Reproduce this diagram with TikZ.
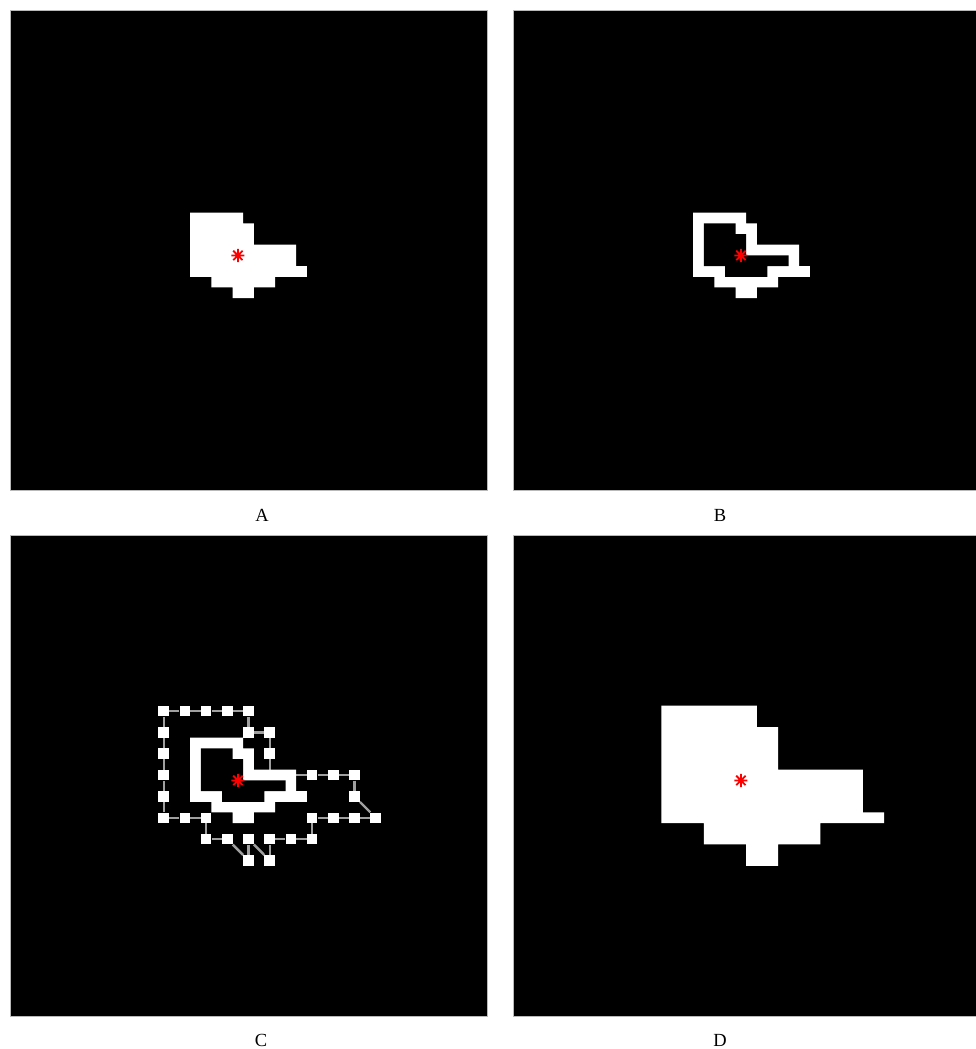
\documentclass[tikz,border=0pt]{standalone}
\usepackage{fontspec}
\setmainfont{Liberation Serif}
\newcommand{\outerblob}{(17,19) -- (22,19) -- (22,20) -- (23,20) -- (23,22) -- (27,22) -- (27,24) -- (28,24) -- (28,25) -- (25,25) -- (25,26) -- (23,26) -- (23,27) -- (21,27) -- (21,26) -- (19,26) -- (19,25) -- (17,25) -- cycle}
\newcommand{\innerhole}{(18,20) -- (21,20) -- (21,21) -- (22,21) -- (22,23) -- (26,23) -- (26,24) -- (24,24) -- (24,25) -- (20,25) -- (20,24) -- (18,24) -- cycle}
\newcommand{\centroid}[1]{\draw[cstar] (#1) +(-0.62,0) -- +(0.62,0) +(0,-0.62) -- +(0,0.62) +(-0.44,-0.44) -- +(0.44,0.44) +(-0.44,0.44) -- +(0.44,-0.44);}
\begin{document}
\begin{tikzpicture}[x=1pt,y=-1pt,
  panelbg/.style={fill=black, draw=gray!55, line width=0.8pt},
  blob/.style={fill=white},
  hole/.style={fill=black},
  link/.style={draw=gray!75, line width=2.4pt},
  vertex/.style={fill=white, minimum size=10.5pt, inner sep=0pt},
  lbl/.style={font=\fontsize{18.5}{20}\selectfont},
  cstar/.style={red, line width=1.8pt}
]
\useasboundingbox (0,0) rectangle (976,1049);
\fill[white] (0,0) rectangle (976,1049);

\draw[panelbg] (10,10) rectangle (487,490);
\draw[panelbg] (513,10) rectangle (977,490);
\draw[panelbg] (10,535) rectangle (487,1016);
\draw[panelbg] (513,535) rectangle (977,1016);

% A: region
\begin{scope}[shift={(10,10)}, x=10.6pt, y=-10.67pt]
  \fill[blob] \outerblob;
  \coordinate (ctrA) at (21.5,23);
  \centroid{ctrA}
\end{scope}

% B: boundary
\begin{scope}[shift={(513,10)}, x=10.6pt, y=-10.67pt]
  \fill[blob] \outerblob;
  \fill[hole] \innerhole;
  \coordinate (ctrB) at (21.5,23);
  \centroid{ctrB}
\end{scope}

% C: boundary with outer chain
\begin{scope}[shift={(10,535)}, x=10.6pt, y=-10.67pt]
  \foreach \n/\c/\r in {s1/14/16, s2/16/16, s3/18/16, s4/20/16, s5/22/16,
      s6/22/18, s7/24/18, s8/24/20, s9/28/22, s10/30/22, s11/32/22,
      s12/32/24, s13/34/26, s14/32/26, s15/30/26, s16/28/26, s17/28/28,
      s18/26/28, s19/24/28, s20/24/30, s21/22/28, s22/22/30, s23/20/28,
      s24/18/28, s25/18/26, s26/16/26, s27/14/26, s28/14/24, s29/14/22,
      s30/14/20, s31/14/18}
    \node[vertex] (\n) at (\c+0.5,\r+0.5) {};
  \coordinate (h1) at (24.5,22.5);
  \coordinate (h2) at (26.5,22.5);
  \foreach \a/\b in {s1/s2, s2/s3, s3/s4, s4/s5, s5/s6, s6/s7, s7/s8,
      s8/h1, h1/h2, h2/s9, s9/s10, s10/s11, s11/s12, s12/s13, s13/s14,
      s14/s15, s15/s16, s16/s17, s17/s18, s18/s19, s19/s20, s20/s21,
      s21/s22, s22/s23, s23/s24, s24/s25, s25/s26, s26/s27, s27/s28,
      s28/s29, s29/s30, s30/s31, s31/s1}
    \draw[link] (\a) -- (\b);
  \fill[blob] \outerblob;
  \fill[hole] \innerhole;
  \coordinate (ctrC) at (21.5,23);
  \centroid{ctrC}
\end{scope}

% D: filled chain
\begin{scope}[shift={(513,535)}, x=10.6pt, y=-10.67pt]
  \fill[blob] (14,16) -- (23,16) -- (23,18) -- (25,18) -- (25,22) -- (33,22) -- (33,26) -- (35,26) -- (35,27) -- (29,27) -- (29,29) -- (25,29) -- (25,31) -- (22,31) -- (22,29) -- (18,29) -- (18,27) -- (14,27) -- cycle;
  \coordinate (ctrD) at (21.5,23);
  \centroid{ctrD}
\end{scope}

\node[lbl] (labA) at (262,515) {A};
\node[lbl] (labB) at (720,515) {B};
\node[lbl] (labC) at (261,1040) {C};
\node[lbl] (labD) at (720,1040) {D};
\end{tikzpicture}
\end{document}
